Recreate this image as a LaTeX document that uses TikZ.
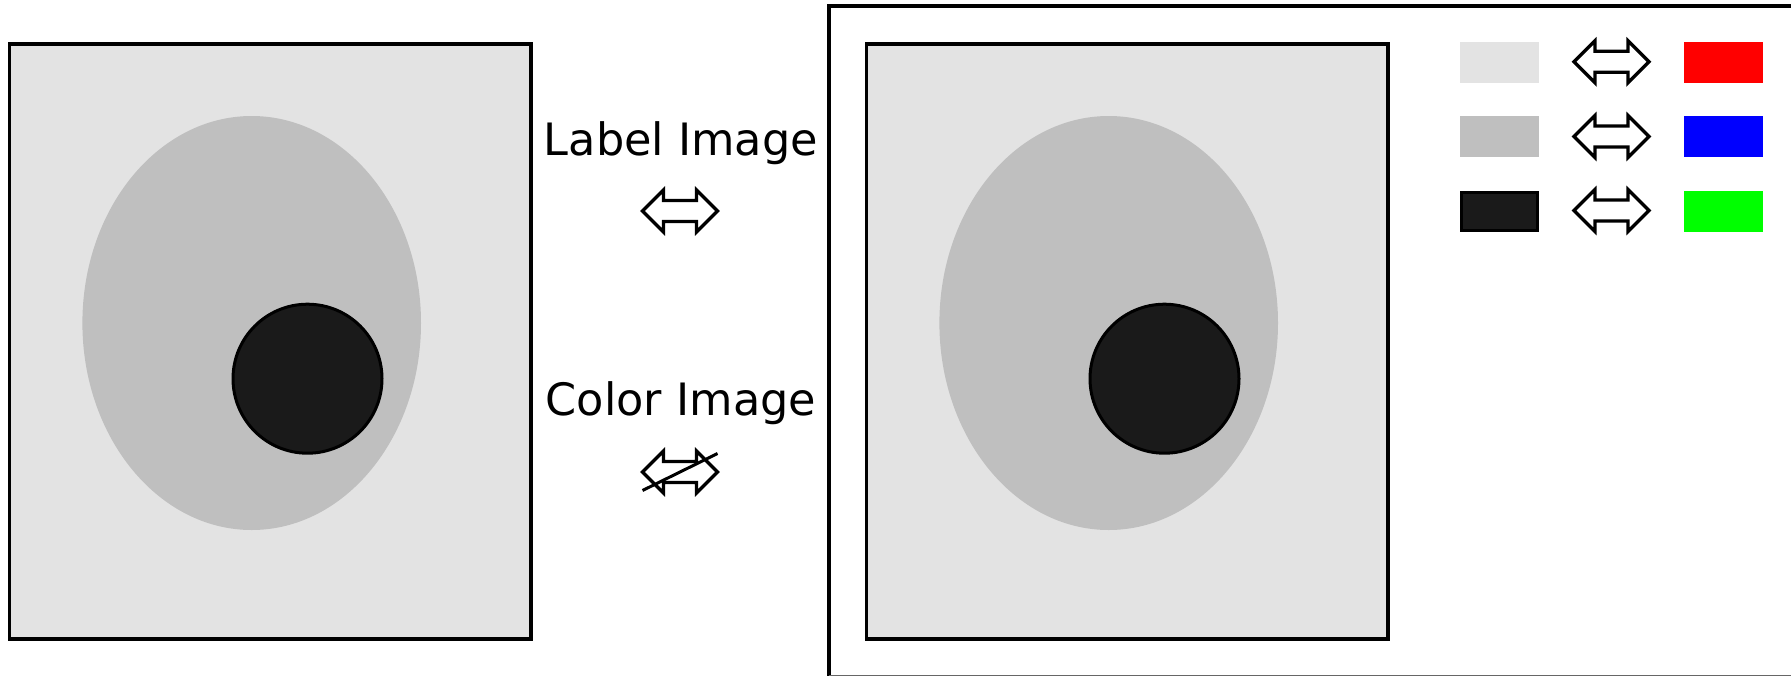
\documentclass[tikz,border=0pt]{standalone}
\usepackage{fontspec}
\setmainfont{DejaVu Sans}
\usetikzlibrary{shapes.geometric}
\definecolor{lgray}{HTML}{E3E3E3}
\definecolor{mgray}{HTML}{BFBFBF}
\definecolor{dgray}{HTML}{1A1A1A}
\begin{document}
\begin{tikzpicture}[x=1pt,y=-1pt,
  panel/.style={draw=black,line width=3.6pt,fill=lgray,inner sep=0pt,outer sep=0pt,minimum width=521.7pt,minimum height=595.5pt},
  blob/.style={ellipse,fill=mgray,inner sep=0pt,minimum width=338.6pt,minimum height=414pt},
  dot/.style={circle,draw=black,line width=3pt,fill=dgray,inner sep=0pt,minimum size=149pt},
  lbl/.style={font=\fontsize{44.6}{53}\selectfont,anchor=base,inner sep=0pt},
  swatch/.style={inner sep=0pt,outer sep=0pt,minimum width=79pt,minimum height=41pt},
  dblarrow/.pic={
    \draw[line width=3.3pt,fill=white] (-37.5,0) -- (-16.5,21) -- (-16.5,10.5) -- (16.5,10.5) -- (16.5,21)
      -- (37.5,0) -- (16.5,-21) -- (16.5,-10.5) -- (-16.5,-10.5) -- (-16.5,-21) -- cycle;
    \coordinate (-sw) at (-37.5,18.5);
    \coordinate (-ne) at (37.5,-18.5);
  }]
\useasboundingbox (0,0) rectangle (1791,675);
\clip (0,0) rectangle (1791,675);
% left image
\node[panel] (Lp) at (270.15,341.45) {};
\node[blob] (Le) at (251.7,323) {};
\node[dot] (Lc) at (307.5,378.7) {};
% right frame
\draw[line width=3.6pt] (829.2,680) -- (829.2,6.2) -- (1800,6.2);
\draw[line width=3.6pt,black!60] (829.2,676.6) -- (1800,676.6);
% right image
\node[panel] (Rp) at (1127.15,341.45) {};
\node[blob] (Re) at (1108.7,323) {};
\node[dot] (Rc) at (1164.5,378.7) {};
% middle labels
\node[lbl] (t1) at (681,155) {Label Image};
\pic (a1) at (680,211) {dblarrow};
\node[lbl] (t2) at (681,415) {Color Image};
\pic (a2) at (680,472) {dblarrow};
\draw[line width=3pt] (a2-sw) -- (a2-ne);
% legend
\node[swatch,fill=lgray] (g1) at (1499.5,62.2) {};
\node[swatch,fill=mgray] (g2) at (1499.5,136.5) {};
\node[swatch,fill=dgray,draw=black,line width=3pt,minimum width=76pt,minimum height=38pt] (g3) at (1499.5,211) {};
\pic (b1) at (1611.5,61.8) {dblarrow};
\pic (b2) at (1611.5,136.5) {dblarrow};
\pic (b3) at (1611.5,210.5) {dblarrow};
\node[swatch,fill=red,minimum width=78.7pt] (c1) at (1723.35,62.2) {};
\node[swatch,fill=blue,minimum width=78.7pt] (c2) at (1723.35,136.5) {};
\node[swatch,fill=green,minimum width=78.7pt] (c3) at (1723.35,211) {};
\end{tikzpicture}
\end{document}
